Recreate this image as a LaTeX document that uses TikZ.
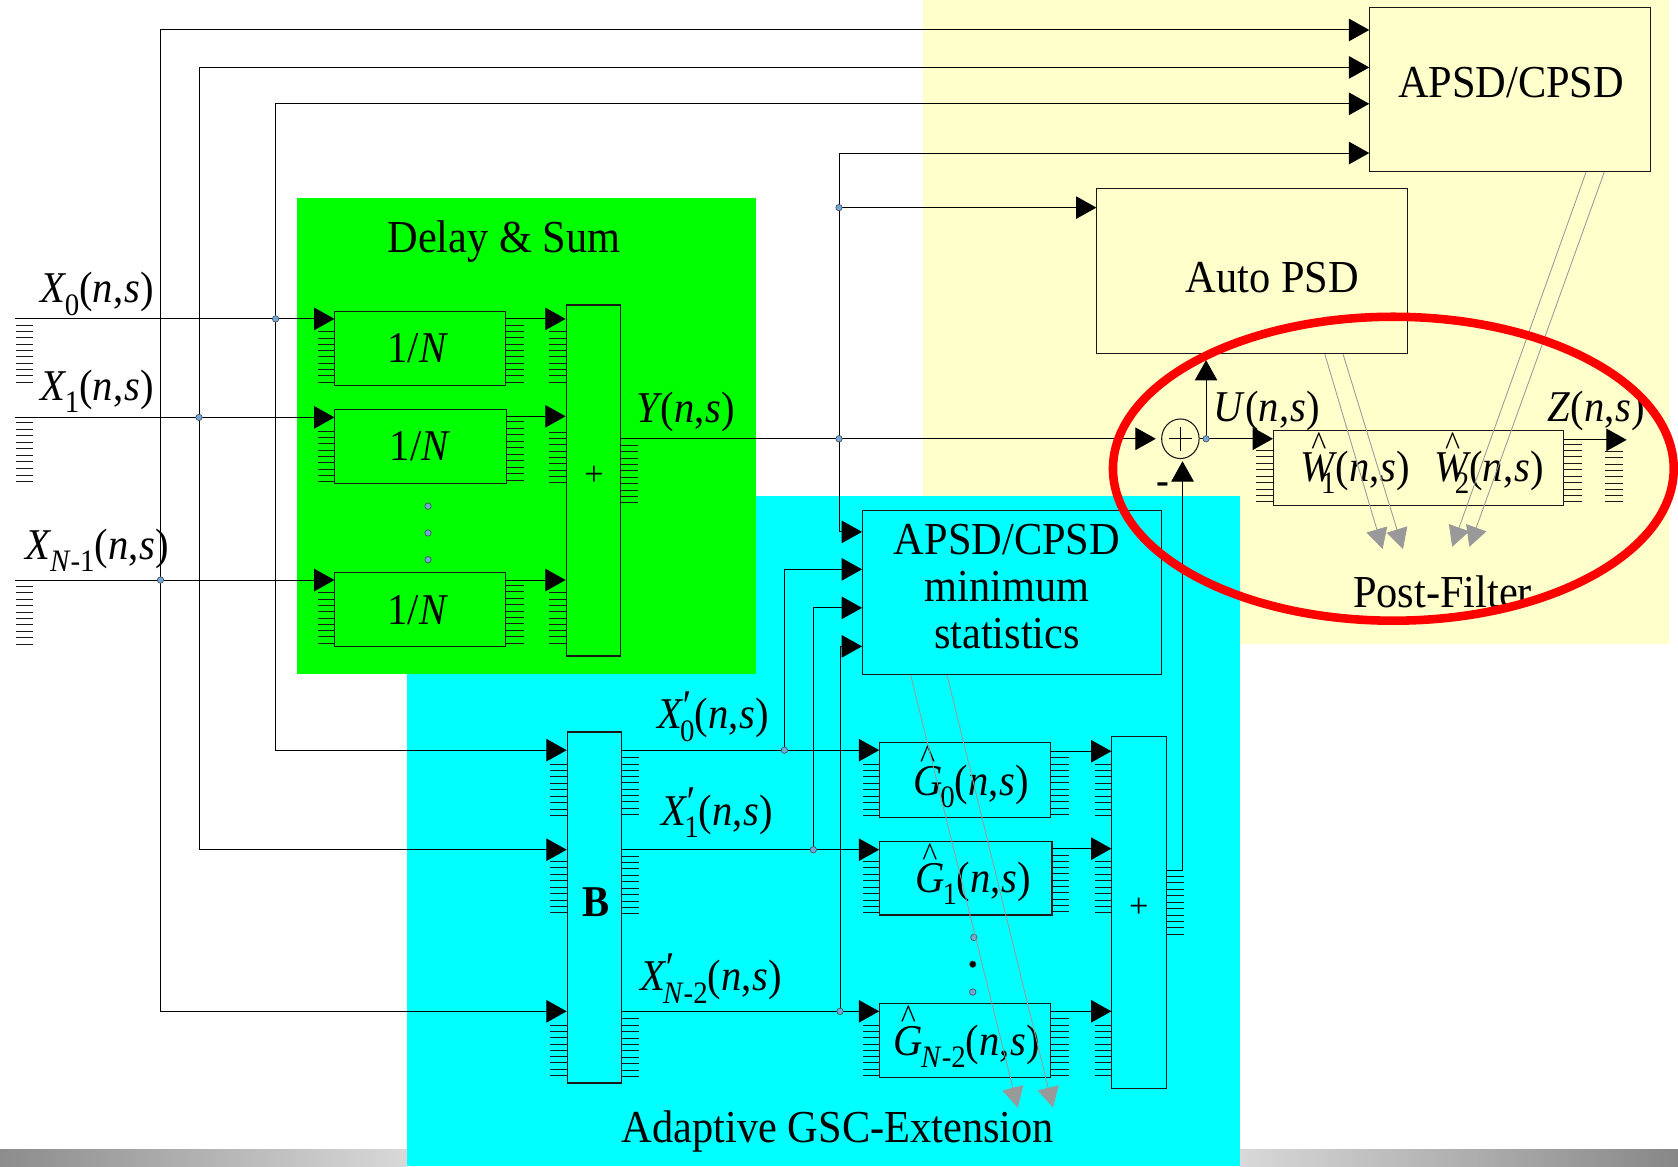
\documentclass[tikz,border=0pt]{standalone}
\usepackage{fontspec}
\setmainfont{Liberation Serif}
\usetikzlibrary{arrows.meta,shapes.geometric}
\definecolor{yel}{HTML}{FFFFCC}
\definecolor{cya}{HTML}{00FFFF}
\definecolor{gre}{HTML}{00FF00}
\definecolor{dotc}{HTML}{6FA8DC}
\definecolor{grayarr}{HTML}{999999}
\newcommand\tl[1]{\scalebox{1}[1.08]{#1}}
\newcommand\subf[1]{\raisebox{-.28em}{\fontsize{27}{27}\selectfont #1}}
\newcommand\args{(\textit{n},\hspace{.02em}\textit{s})}
\newcommand\sig[2]{\tl{\textit{#1}\kern-.05em\subf{#2}\args}}
\newcommand\sigp[2]{\tl{\textit{X}\kern-.08em\makebox[0pt][l]{\raisebox{.2em}{\textit{′}}}\subf{#2}\args}}
\newcommand\hatted[1]{\setbox0\hbox{\textit{#1}}\makebox[0pt][l]{\makebox[\wd0][c]{\raisebox{.6em}{\fontsize{30}{30}\selectfont\^{}}}}\box0}
\newcommand\sighat[3][-.05em]{\tl{\hatted{#2}\kern#1\subf{#3}\args}}
\newcommand\bx[5]{\pgfmathsetmacro\bw{#4-#2}\pgfmathsetmacro\bh{#5-#3}%
  \node[blk,minimum width=\bw pt,minimum height=\bh pt] (#1) at ({(#2+#4)/2},{(#3+#5)/2}) {};}
% comb of ticks: x1 x2 y1 y2 and a count of ticks
\newcommand\comb[5]{\pgfmathtruncatemacro\cn{#5-1}\foreach \ci in {0,...,\cn}{\pgfmathsetmacro\cy{#3+\ci*(#4-#3)/\cn}\draw[tick] (#1,\cy) -- (#2,\cy);}}
\tikzset{
  blk/.style={draw=black!90,line width=1pt,inner sep=0pt,fill=none},
  wire/.style={draw=black,line width=.9pt},
  arr/.style={wire,-{Triangle[length=19pt,width=21pt]}},
  garr/.style={draw=grayarr,line width=.8pt,-{Triangle[length=19pt,width=20pt,fill=grayarr]}},
  tick/.style={draw=black!90,line width=.9pt},
  jdot/.style={circle,draw=black!70,fill=dotc,line width=.6pt,minimum size=6pt,inner sep=0pt},
  txt/.style={inner sep=0pt,anchor=base west,font=\fontsize{38}{44}\selectfont},
  ctr/.style={inner sep=0pt,align=center,font=\fontsize{39.6}{44}\selectfont},
}
\begin{document}
\begin{tikzpicture}[x=1pt,y=-1pt]
\useasboundingbox (0,0) rectangle (1568,1090);
% backgrounds
\fill[white] (0,0) rectangle (1568,1090);
\shade[left color=black!45,right color=black!15] (0,1074) rectangle (380,1090);
\shade[left color=black!15,right color=black!47] (1158,1074) rectangle (1568,1090);
\fill[yel] (862.5,0) rectangle (1560,602);
\fill[cya] (380,463.5) rectangle (1158.5,1090);
\fill[gre] (277.5,185) rectangle (706,630);
% blocks
\bx{apsd}{1280}{7}{1542}{160}
\bx{auto}{1025}{176}{1315}{330}
\bx{na}{313}{291}{472}{360}
\bx{nb}{313}{383}{473}{452}
\bx{nc}{313}{535}{472}{604}
\bx{sa}{529}{285}{580}{613}
\bx{bb}{530}{684}{581}{1012}
\bx{ga}{822}{694}{982}{764}
\bx{gb}{822}{786}{983}{855}
\bx{gc}{822}{938}{982}{1007}
\bx{sb}{1039}{688}{1090}{1017}
\bx{mins}{806}{477}{1085}{630}
\bx{wf}{1190}{402}{1461}{472}
\node[draw=black!90,line width=1pt,ellipse,minimum width=35pt,minimum height=37pt,inner sep=0pt] (cp) at (1103,410) {};
\draw[line width=.9pt] ([xshift=-11pt]cp.center) -- ([xshift=11pt]cp.center);
\draw[line width=.9pt] ([yshift=-11pt]cp.center) -- ([yshift=11pt]cp.center);
% named points
\coordinate (s0) at (14,298);
\coordinate (s1) at (14,390);
\coordinate (s2) at (14,542);
\coordinate (j0) at (257.5,298);
\coordinate (j1) at (186,390);
\coordinate (j2) at (150,542);
\coordinate (r1) at (0,28);
\coordinate (r2) at (0,63);
\coordinate (r3) at (0,97);
\coordinate (r4) at (0,143);
\coordinate (ja) at (784,194);
\coordinate (jy) at (784,410);
\coordinate (l1) at (0,701);
\coordinate (l2) at (0,794);
\coordinate (l3) at (0,945);
\coordinate (ma) at (0,497);
\coordinate (mb) at (0,532);
\coordinate (mc) at (0,568);
\coordinate (md) at (0,604);
\coordinate (ka) at (733,701);
\coordinate (kb) at (760,794);
\coordinate (kc) at (785,945);
\coordinate (ju) at (1127,410);
\coordinate (zt) at (1520,411);
\coordinate (yo) at (580,410);
\coordinate (so) at (1090,813);
\coordinate (sv) at (1105,813);
% input wires
\draw[arr] (s0) -- (na.west |- s0);
\draw[arr] (s1) -- (nb.west |- s1);
\draw[arr] (s2) -- (nc.west |- s2);
\draw[arr] (j0) |- (apsd.west |- r3);
\draw[arr] (j0) |- (bb.west |- l1);
\draw[arr] (j1) |- (apsd.west |- r2);
\draw[arr] (j1) |- (bb.west |- l2);
\draw[arr] (j2) |- (apsd.west |- r1);
\draw[arr] (j2) |- (bb.west |- l3);
% delay and sum
\draw[arr] (na.east |- s0) -- (sa.west |- s0);
\draw[arr] (nb.east |- 0,389) -- (sa.west |- 0,389);
\draw[arr] (nc.east |- s2) -- (sa.west |- s2);
\draw[arr,shorten >=5pt] (yo) -- (cp.west);
\draw[arr] (ja) |- (apsd.west |- r4);
\draw[arr] (ja) -- (auto.west |- ja);
\draw[wire] (ja) -- (jy);
\draw[arr] (jy) |- (mins.west |- ma);
% blocking matrix outputs
\draw[arr] (bb.east |- l1) -- (ga.west |- l1);
\draw[arr] (bb.east |- l2) -- (gb.west |- l2);
\draw[arr] (bb.east |- l3) -- (gc.west |- l3);
\draw[arr] (ka) |- (mins.west |- mb);
\draw[arr] (kb) |- (mins.west |- mc);
\draw[arr] (kc) |- (mins.west |- md);
\draw[arr] (ga.east |- 0,702) -- (sb.west |- 0,702);
\draw[arr] (gb.east |- 0,793) -- (sb.west |- 0,793);
\draw[arr] (gc.east |- l3) -- (sb.west |- l3);
\draw[wire] (so) -- (sv);
\draw[arr,shorten >=2pt] (sv) -- (sv |- cp.south);
\draw[arr] (cp.east) -- (wf.west |- cp.east);
\draw[arr,shorten >=6pt] (ju) -- (ju |- auto.south);
\draw[arr] (wf.east |- zt) -- (zt);
% combs
\comb{15}{31}{304}{357}{10}
\comb{15}{31}{395}{450}{10}
\comb{15}{31}{548}{602}{10}
\comb{297}{313}{310}{357}{9}
\comb{297}{313}{403}{450}{9}
\comb{297}{313}{554}{601}{9}
\comb{472}{490}{304}{357}{10}
\comb{473}{490}{394}{449}{10}
\comb{472}{490}{547}{601}{10}
\comb{513}{529}{310}{357}{9}
\comb{513}{529}{404}{451}{9}
\comb{513}{529}{554}{601}{9}
\comb{580}{596}{416}{470}{10}
\comb{514}{530}{714}{762}{9}
\comb{514}{530}{805}{853}{9}
\comb{514}{530}{958}{1005}{9}
\comb{581}{597}{708}{761}{10}
\comb{581}{597}{800}{854}{10}
\comb{581}{597}{952}{1006}{10}
\comb{806}{822}{714}{762}{9}
\comb{806}{822}{805}{853}{9}
\comb{806}{822}{958}{1005}{9}
\comb{982}{999}{708}{761}{10}
\comb{983}{999}{799}{852}{10}
\comb{982}{999}{952}{1005}{10}
\comb{1023}{1039}{714}{762}{9}
\comb{1023}{1039}{805}{853}{9}
\comb{1023}{1039}{958}{1005}{9}
\comb{1090}{1106}{819}{873}{10}
\comb{1174}{1190}{421}{469}{9}
\comb{1461}{1478}{415}{469}{10}
\comb{1500}{1517}{422}{469}{9}
% junction dots
\foreach \p in {j0,j1,j2,ja,jy,ka,kb,kc,ju}{\node[jdot] (dot\p) at (\p) {};}
\node[jdot] (v1) at (400,473) {};
\node[jdot] (v2) at (400,498) {};
\node[jdot] (v3) at (400,523) {};
\node[jdot] (v4) at (910,876) {};
\node[jdot,fill=black] (v5) at (909,901) {};
\node[jdot] (v6) at (909,927) {};
% texts
\node[ctr] (tapsd) at (1412,77) {\tl{APSD/CPSD}};
\node[ctr] (tauto) at (1189,259) {\tl{Auto PSD}};
\node[ctr] (tds) at (471,226) {\tl{Delay \& Sum}};
\node[ctr] (tmin) at (941,548) {\tl{APSD/CPSD}\\\tl{minimum}\\\tl{statistics}};
\node[ctr] (tgsc) at (783,1057) {\tl{Adaptive GSC-Extension}};
\node[ctr] (tpf) at (1348,553) {\tl{Post-Filter}};
\node[txt] (tn1) at (362,339) {\tl{1/\textit{N}}};
\node[txt] (tn2) at (364,430) {\tl{1/\textit{N}}};
\node[txt] (tn3) at (362,584) {\tl{1/\textit{N}}};
\node[ctr,font=\fontsize{32}{32}\selectfont] (tpa) at (555,445) {+};
\node[ctr,font=\fontsize{32}{32}\selectfont] (tpb) at (1064,848) {+};
\node[ctr,font=\bfseries\fontsize{38}{44}\selectfont] (tb) at (557,843) {\tl{B}};
\node[ctr,font=\bfseries\fontsize{36}{36}\selectfont] (tm) at (1087,456) {-};
\node[txt] (x0) at (38,283) {\sig{X}{0}};
\node[txt] (x1) at (38,374) {\sig{X}{1}};
\node[txt] (x2) at (24,523) {\sig{X}{\textit{N}-1}};
\node[txt] (ty) at (595,395) {\tl{\textit{Y}\kern-.06em\args}};
\node[txt] (tu) at (1134,394) {\tl{\textit{U}\args}};
\node[txt] (tz) at (1446,394) {\tl{\textit{Z}\args}};
\node[txt] (xp0) at (614,681) {\sigp{X}{0}};
\node[txt] (xp1) at (618,771) {\sigp{X}{1}};
\node[txt] (xp2) at (598,926) {\sigp{X}{\textit{N}-2}};
\node[txt] (g0) at (853,743) {\sighat{G}{0}};
\node[txt] (g1) at (855,834) {\sighat{G}{1}};
\node[txt] (g2) at (835,986) {\sighat{G}{\textit{N}-2}};
\node[txt] (w1) at (1215,450) {\sighat[-.4em]{W}{1}};
\node[txt] (w2) at (1340,450) {\sighat[-.4em]{W}{2}};
% gray arrows
\coordinate (ta) at (1292,513);
\coordinate (tb2) at (1311,513);
\coordinate (tc) at (1357,511);
\coordinate (td) at (1373,511);
\coordinate (te) at (951,1035);
\coordinate (tf) at (984,1035);
\draw[garr] (1238,331) -- (ta);
\draw[garr] (1255,331) -- (tb2);
\draw[garr] (1482,161) -- (tc);
\draw[garr] (1499,161) -- (td);
\draw[garr] (851,631) -- (te);
\draw[garr] (885,631) -- (tf);
% highlight
\node[draw=red,line width=8pt,ellipse,minimum width=524pt,minimum height=284pt,inner sep=0pt] (hl) at (1302,438) {};
\end{tikzpicture}
\end{document}
